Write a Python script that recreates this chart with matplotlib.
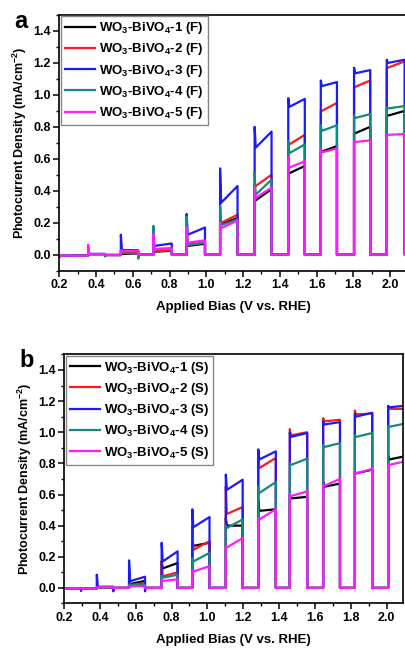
import matplotlib
matplotlib.use('Agg')
import matplotlib.pyplot as plt
from matplotlib.ticker import MultipleLocator

plt.rcParams['font.family'] = 'Liberation Sans'
plt.rcParams['font.weight'] = 'bold'
plt.rcParams['mathtext.fontset'] = 'custom'
plt.rcParams['mathtext.rm'] = 'Liberation Sans:bold'
plt.rcParams['mathtext.it'] = 'Liberation Sans:bold:italic'
plt.rcParams['mathtext.bf'] = 'Liberation Sans:bold'

# ---- panel a (F) : chopped light, light-on / light-off bias (V vs RHE)
on_a = [0.175, 0.357, 0.535, 0.712, 0.893, 1.075, 1.263, 1.446, 1.623, 1.804, 1.982]
off_a = [0.268, 0.449, 0.630, 0.812, 0.993, 1.170, 1.355, 1.536, 1.711, 1.892, 2.080]
dark_a = [-0.012, -0.006, -0.002, 0, 0, 0, 0, 0, 0, 0, 0, 0]

spike_a1 = [-0.008, 0.003, 0.005, 0.018, 0.055, 0.19, 0.34, 0.51, 0.645, 0.76, 0.87]
start_a1 = [-0.008, 0.003, 0.005, 0.018, 0.055, 0.19, 0.34, 0.51, 0.645, 0.76, 0.87]
end_a1 = [-0.006, 0.003, 0.008, 0.025, 0.068, 0.23, 0.41, 0.555, 0.68, 0.80, 0.90]

spike_a2 = [-0.008, 0.003, 0.01, 0.02, 0.065, 0.20, 0.43, 0.69, 0.90, 1.05, 1.17]
start_a2 = [-0.008, 0.003, 0.01, 0.02, 0.065, 0.20, 0.43, 0.69, 0.90, 1.05, 1.17]
end_a2 = [-0.006, 0.003, 0.012, 0.028, 0.075, 0.25, 0.50, 0.75, 0.95, 1.09, 1.21]

spike_a3 = [-0.008, 0.01, 0.125, 0.07, 0.255, 0.54, 0.80, 0.98, 1.09, 1.17, 1.22]
start_a3 = [-0.008, 0.005, 0.03, 0.055, 0.125, 0.325, 0.67, 0.925, 1.055, 1.135, 1.20]
end_a3 = [-0.006, 0.005, 0.027, 0.07, 0.17, 0.43, 0.77, 0.975, 1.08, 1.155, 1.22]

spike_a4 = [-0.008, 0.01, 0.03, 0.18, 0.24, 0.305, 0.51, 0.71, 0.81, 0.87, 0.92]
start_a4 = [-0.008, 0.003, 0.02, 0.035, 0.06, 0.185, 0.375, 0.635, 0.775, 0.855, 0.915]
end_a4 = [-0.006, 0.003, 0.022, 0.04, 0.075, 0.22, 0.47, 0.69, 0.81, 0.88, 0.93]
dip_a4 = [0, -0.012, -0.025, 0, 0, 0, 0, 0, 0, 0, 0]

spike_a5 = [0.012, 0.062, 0.025, 0.13, 0.17, 0.20, 0.42, 0.61, 0.66, 0.71, 0.75]
start_a5 = [-0.006, 0.004, 0.025, 0.035, 0.075, 0.165, 0.355, 0.545, 0.64, 0.705, 0.75]
end_a5 = [-0.005, 0.004, 0.022, 0.04, 0.09, 0.215, 0.42, 0.585, 0.665, 0.715, 0.755]

# ---- panel b (S)
on_b = [0.205, 0.383, 0.563, 0.745, 0.916, 1.103, 1.284, 1.460, 1.646, 1.823, 2.009]
off_b = [0.295, 0.475, 0.652, 0.834, 1.012, 1.197, 1.382, 1.557, 1.740, 1.920, 2.100]
dark_b = [-0.006, -0.004, 0, 0, 0, 0, 0, 0, 0, 0, 0, 0]

spike_b1 = [-0.004, 0.005, 0.04, 0.17, 0.30, 0.45, 0.56, 0.60, 0.68, 0.75, 0.85]
start_b1 = [-0.004, 0.003, 0.025, 0.125, 0.27, 0.40, 0.495, 0.575, 0.65, 0.735, 0.825]
end_b1 = [-0.004, 0.003, 0.045, 0.16, 0.29, 0.40, 0.505, 0.585, 0.67, 0.76, 0.845]

spike_b2 = [-0.004, 0.005, 0.05, 0.17, 0.40, 0.65, 0.86, 1.02, 1.09, 1.14, 1.16]
start_b2 = [-0.004, 0.003, 0.02, 0.075, 0.245, 0.475, 0.77, 0.98, 1.07, 1.115, 1.15]
end_b2 = [-0.004, 0.003, 0.03, 0.10, 0.30, 0.52, 0.835, 1.0, 1.08, 1.12, 1.15]

spike_b3 = [-0.004, 0.085, 0.177, 0.29, 0.505, 0.728, 0.89, 1.0, 1.07, 1.12, 1.17]
start_b3 = [-0.004, 0.008, 0.043, 0.17, 0.39, 0.63, 0.825, 0.97, 1.05, 1.10, 1.16]
end_b3 = [-0.004, 0.008, 0.072, 0.235, 0.455, 0.695, 0.877, 0.995, 1.065, 1.125, 1.17]
dip_b3 = [-0.02, -0.022, -0.022, 0, 0, 0, 0, 0, 0, 0, 0]

spike_b4 = [-0.004, 0.003, 0.02, 0.08, 0.19, 0.40, 0.65, 0.80, 0.92, 0.98, 1.04]
start_b4 = [-0.004, 0.003, 0.018, 0.065, 0.17, 0.385, 0.61, 0.79, 0.905, 0.97, 1.035]
end_b4 = [-0.004, 0.003, 0.02, 0.085, 0.225, 0.44, 0.68, 0.83, 0.93, 0.995, 1.055]

spike_b5 = [-0.004, 0.005, 0.01, 0.055, 0.11, 0.27, 0.45, 0.60, 0.66, 0.74, 0.79]
start_b5 = [-0.004, 0.005, 0.01, 0.045, 0.105, 0.26, 0.44, 0.59, 0.655, 0.735, 0.79]
end_b5 = [-0.004, 0.005, 0.012, 0.055, 0.14, 0.32, 0.505, 0.62, 0.70, 0.765, 0.812]

labels_a = ['WO$_3$-BiVO$_4$-%d (F)' % k for k in range(1, 6)]
labels_b = ['WO$_3$-BiVO$_4$-%d (S)' % k for k in range(1, 6)]
colors = ['#000000', '#ff1a1a', '#1a1aff', '#128a80', '#ff1aff']


def chopped(on, off, dark, spike, start, end, dip=None):
    xs, ys = [0.2], [dark[0]]
    for i in range(len(on)):
        xs += [on[i], on[i], on[i] + 0.006, off[i]]
        ys += [dark[i], spike[i], start[i], end[i]]
        if dip is not None and dip[i] != 0:
            xs += [off[i], off[i] + 0.004]
            ys += [dip[i], dark[i + 1]]
        else:
            xs += [off[i]]
            ys += [dark[i + 1]]
        nxt = on[i + 1] if i + 1 < len(on) else off[i] + 0.1
        xs += [nxt]
        ys += [dark[i + 1]]
    return xs, ys


fig = plt.figure(figsize=(4.06, 6.48), dpi=100)
ax_a = fig.add_axes([0.146, 0.5823, 0.8555, 0.3946])
ax_b = fig.add_axes([0.1576, 0.0687, 0.8343, 0.3844])

series_a = [(spike_a1, start_a1, end_a1, None), (spike_a2, start_a2, end_a2, None),
            (spike_a3, start_a3, end_a3, None), (spike_a4, start_a4, end_a4, dip_a4),
            (spike_a5, start_a5, end_a5, None)]
series_b = [(spike_b1, start_b1, end_b1, None), (spike_b2, start_b2, end_b2, None),
            (spike_b3, start_b3, end_b3, dip_b3), (spike_b4, start_b4, end_b4, None),
            (spike_b5, start_b5, end_b5, None)]

for ax, on, off, dark, series, labels, tag in [
        (ax_a, on_a, off_a, dark_a, series_a, labels_a, 'a'),
        (ax_b, on_b, off_b, dark_b, series_b, labels_b, 'b')]:
    for (sp, st, en, dp), lab, c in zip(series, labels, colors):
        x, y = chopped(on, off, dark, sp, st, en, dp)
        ax.plot(x, y, color=c, lw=1.6, label=lab)
    ax.set_xlim(0.2, 2.09)
    ax.set_ylim(-0.1, 1.5)
    ax.xaxis.set_minor_locator(MultipleLocator(0.1))
    ax.yaxis.set_minor_locator(MultipleLocator(0.1))
    ax.set_xticks([0.2, 0.4, 0.6, 0.8, 1.0, 1.2, 1.4, 1.6, 1.8, 2.0])
    ax.set_yticks([0.0, 0.2, 0.4, 0.6, 0.8, 1.0, 1.2, 1.4])
    ax.tick_params(which='major', direction='out', length=4, width=1.1,
                   labelsize=9, pad=2)
    ax.tick_params(which='minor', direction='out', length=2.5, width=1.0)
    for s in ax.spines.values():
        s.set_linewidth(1.2)
    ax.set_xlabel('Applied Bias (V vs. RHE)', fontsize=9.5, fontweight='bold', labelpad=7)
    ax.set_ylabel('Photocurrent Density (mA/cm$^{-2}$)', fontsize=9,
                  fontweight='bold', labelpad=3)
    leg = ax.legend(loc='upper left', bbox_to_anchor=(0.005, 0.995), borderaxespad=0,
                    fontsize=9.5, frameon=True, fancybox=False, framealpha=1,
                    edgecolor='#888888', handlelength=2.3, handletextpad=0.3,
                    labelspacing=0.4, borderpad=0.3)
    leg.get_frame().set_linewidth(1.0)
    ax.text(-0.11, 0.975, tag, transform=ax.transAxes, fontsize=17, fontweight='bold',
            ha='center', va='center')

fig.savefig('out.png', dpi=100)
